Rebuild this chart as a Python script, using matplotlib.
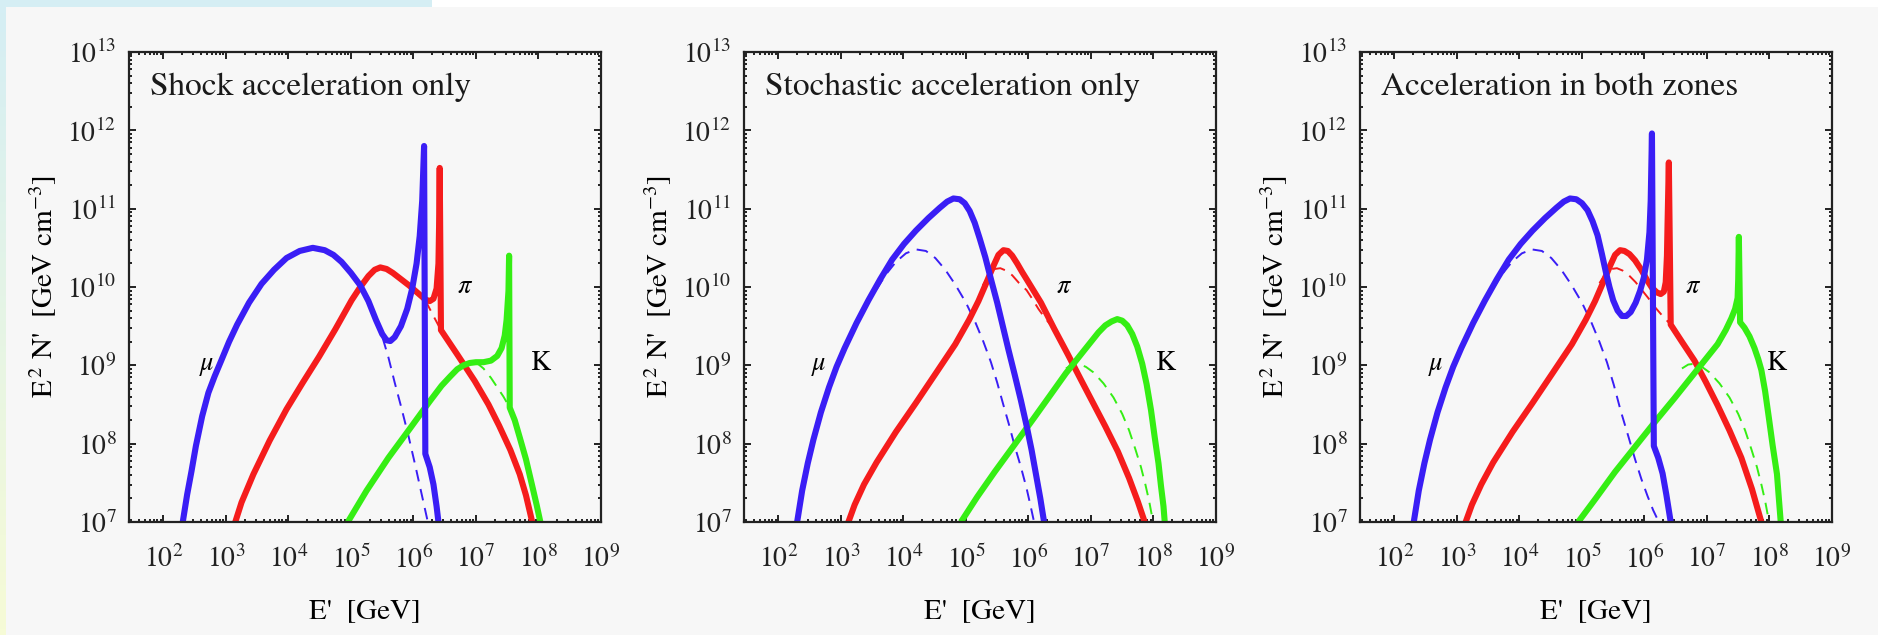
import numpy as np
import matplotlib
matplotlib.use("Agg")
import matplotlib.pyplot as plt
from matplotlib.ticker import LogLocator, LogFormatterSciNotation, NullFormatter
from matplotlib.patches import Rectangle

plt.rcParams['font.family'] = 'STIXGeneral'
plt.rcParams['mathtext.fontset'] = 'stix'

# curves as (log10 E', log10 E^2 N')
# --- panel 1: shock acceleration only
shock_mu = [(2.31, 7.00), (2.38, 7.35), (2.45, 7.65), (2.52, 7.97), (2.62, 8.35), (2.72, 8.65),
            (2.82, 8.86), (2.92, 9.05), (3.05, 9.30), (3.18, 9.52), (3.37, 9.80), (3.57, 10.04),
            (3.77, 10.22), (3.97, 10.37), (4.18, 10.46), (4.39, 10.50), (4.58, 10.47), (4.72, 10.41),
            (4.85, 10.32), (5.00, 10.18), (5.15, 10.02), (5.28, 9.82), (5.40, 9.58), (5.50, 9.40),
            (5.57, 9.32), (5.63, 9.31), (5.70, 9.36), (5.80, 9.50), (5.90, 9.72), (5.98, 9.98),
            (6.05, 10.30), (6.10, 10.65), (6.14, 11.10), (6.17, 11.80), (6.19, 7.87), (6.26, 7.70),
            (6.32, 7.48), (6.37, 7.20), (6.40, 7.00)]
shock_mu_dash = [(5.40, 9.58), (5.50, 9.37), (5.60, 9.10), (5.70, 8.78), (5.80, 8.48), (5.92, 8.10),
                 (6.03, 7.72), (6.13, 7.36), (6.23, 7.00)]
shock_pi = [(3.15, 7.00), (3.25, 7.25), (3.44, 7.61), (3.70, 8.04), (3.97, 8.44), (4.23, 8.78),
            (4.49, 9.11), (4.75, 9.46), (5.01, 9.83), (5.15, 10.00), (5.28, 10.14), (5.38, 10.22),
            (5.47, 10.25), (5.57, 10.23), (5.67, 10.18), (5.80, 10.10), (5.93, 10.02), (6.06, 9.93),
            (6.19, 9.84), (6.26, 9.82), (6.32, 9.85), (6.37, 9.98), (6.40, 10.30), (6.41, 10.77),
            (6.42, 11.52), (6.44, 9.45), (6.70, 9.14), (6.98, 8.80), (7.20, 8.50), (7.37, 8.23),
            (7.55, 7.92), (7.70, 7.61), (7.80, 7.34), (7.90, 7.00)]
shock_pi_dash = [(6.19, 9.83), (6.32, 9.63), (6.44, 9.45)]
shock_k = [(4.95, 7.00), (5.25, 7.40), (5.60, 7.82), (5.95, 8.20), (6.26, 8.54), (6.45, 8.74),
           (6.59, 8.86), (6.70, 8.95), (6.80, 9.00), (6.90, 9.03), (7.00, 9.04), (7.12, 9.04),
           (7.24, 9.06), (7.34, 9.12), (7.41, 9.22), (7.46, 9.38), (7.49, 9.58), (7.52, 9.95),
           (7.53, 10.40), (7.54, 8.46), (7.62, 8.30), (7.70, 8.08), (7.80, 7.80), (7.90, 7.46),
           (7.97, 7.22), (8.03, 7.00)]
shock_k_dash = [(7.00, 9.04), (7.12, 8.96), (7.24, 8.84), (7.34, 8.72), (7.44, 8.60), (7.54, 8.46)]

# --- panel 2: stochastic acceleration only
stoch_mu = [(2.30, 7.00), (2.38, 7.40), (2.47, 7.75), (2.56, 8.05), (2.68, 8.40), (2.81, 8.72),
            (2.93, 8.98), (3.06, 9.22), (3.25, 9.54), (3.44, 9.83), (3.63, 10.10), (3.82, 10.35),
            (4.01, 10.55), (4.20, 10.72), (4.40, 10.88), (4.58, 11.01), (4.70, 11.09), (4.80, 11.13),
            (4.90, 11.12), (4.98, 11.07), (5.06, 10.97), (5.14, 10.82), (5.22, 10.62), (5.31, 10.38),
            (5.40, 10.10), (5.50, 9.80), (5.59, 9.50), (5.68, 9.20), (5.78, 8.88), (5.88, 8.55),
            (5.97, 8.23), (6.05, 7.92), (6.12, 7.61), (6.19, 7.30), (6.25, 7.00)]
stoch_mu_dash = [(3.57, 9.97), (3.72, 10.16), (3.88, 10.32), (4.04, 10.43), (4.20, 10.48),
                 (4.36, 10.46), (4.51, 10.37), (4.67, 10.22), (4.83, 10.03), (5.00, 9.80),
                 (5.15, 9.55), (5.28, 9.30), (5.40, 9.04), (5.50, 8.78), (5.59, 8.52), (5.69, 8.24),
                 (5.78, 7.97), (5.88, 7.70), (5.97, 7.43), (6.03, 7.22), (6.09, 7.00)]
stoch_pi = [(3.12, 7.00), (3.22, 7.22), (3.37, 7.48), (3.57, 7.76), (3.88, 8.15), (4.20, 8.52),
            (4.52, 8.90), (4.83, 9.27), (5.05, 9.58), (5.20, 9.82), (5.33, 10.06), (5.44, 10.27),
            (5.52, 10.41), (5.60, 10.47), (5.67, 10.46), (5.74, 10.40), (5.82, 10.30), (5.90, 10.19),
            (5.97, 10.10), (6.20, 9.80), (6.41, 9.47), (6.63, 9.14), (6.85, 8.80), (7.04, 8.51),
            (7.23, 8.22), (7.43, 7.90), (7.61, 7.56), (7.75, 7.26), (7.86, 7.00)]
stoch_pi_dash = [(5.27, 10.02), (5.37, 10.16), (5.46, 10.23), (5.55, 10.24), (5.64, 10.21),
                 (5.74, 10.15), (5.85, 10.05), (5.97, 9.96), (6.06, 9.85), (6.16, 9.72), (6.25, 9.62),
                 (6.35, 9.52)]
stoch_k = [(4.92, 7.00), (5.18, 7.32), (5.46, 7.64), (5.78, 7.99), (6.09, 8.33), (6.35, 8.62),
           (6.60, 8.90), (6.80, 9.10), (6.98, 9.28), (7.12, 9.42), (7.23, 9.51), (7.33, 9.56),
           (7.42, 9.59), (7.50, 9.57), (7.58, 9.51), (7.66, 9.40), (7.74, 9.24), (7.82, 9.02),
           (7.89, 8.76), (7.96, 8.43), (8.02, 8.08), (8.08, 7.75), (8.12, 7.46), (8.16, 7.20),
           (8.18, 7.00)]
stoch_k_dash = [(6.60, 8.96), (6.70, 9.01), (6.80, 9.02), (6.92, 8.98), (7.04, 8.91), (7.20, 8.77),
                (7.36, 8.59), (7.50, 8.38), (7.61, 8.17), (7.71, 7.93), (7.80, 7.70), (7.87, 7.48),
                (7.93, 7.27), (7.97, 7.10), (7.99, 7.00)]

# --- panel 3: acceleration in both zones
both_mu = [(2.31, 7.00), (2.39, 7.40), (2.48, 7.75), (2.57, 8.05), (2.69, 8.40), (2.82, 8.72),
           (2.94, 8.98), (3.07, 9.22), (3.26, 9.54), (3.45, 9.83), (3.64, 10.10), (3.83, 10.35),
           (4.02, 10.55), (4.21, 10.72), (4.41, 10.88), (4.59, 11.01), (4.71, 11.09), (4.81, 11.13),
           (4.91, 11.12), (5.00, 11.07), (5.09, 10.98), (5.17, 10.84), (5.25, 10.66), (5.32, 10.42),
           (5.38, 10.20), (5.44, 10.00), (5.50, 9.83), (5.57, 9.70), (5.64, 9.63), (5.71, 9.63),
           (5.78, 9.68), (5.86, 9.80), (5.93, 9.95), (5.99, 10.12), (6.04, 10.35), (6.08, 10.70),
           (6.10, 11.10), (6.12, 11.96), (6.15, 7.97), (6.22, 7.82), (6.29, 7.62), (6.35, 7.35),
           (6.42, 7.00)]
both_mu_dash = [(3.57, 9.97), (3.72, 10.16), (3.88, 10.32), (4.04, 10.43), (4.20, 10.48),
                (4.36, 10.46), (4.51, 10.37), (4.67, 10.22), (4.83, 10.03), (5.00, 9.80),
                (5.15, 9.55), (5.28, 9.30), (5.40, 9.04), (5.51, 8.75), (5.62, 8.42), (5.74, 8.10),
                (5.85, 7.80), (5.95, 7.55), (6.05, 7.33), (6.14, 7.15), (6.23, 7.00)]
both_pi = [(3.14, 7.00), (3.24, 7.22), (3.39, 7.48), (3.58, 7.76), (3.89, 8.15), (4.21, 8.52),
           (4.53, 8.90), (4.84, 9.27), (5.06, 9.58), (5.21, 9.82), (5.34, 10.06), (5.45, 10.27),
           (5.53, 10.41), (5.61, 10.47), (5.68, 10.46), (5.76, 10.42), (5.85, 10.34), (5.95, 10.22),
           (6.04, 10.09), (6.12, 9.99), (6.20, 9.93), (6.26, 9.91), (6.31, 9.94), (6.34, 10.06),
           (6.36, 10.40), (6.37, 10.82), (6.39, 11.59), (6.42, 9.52), (6.60, 9.30), (6.80, 9.06),
           (6.98, 8.79), (7.17, 8.49), (7.36, 8.17), (7.55, 7.82), (7.72, 7.42), (7.87, 7.00)]
both_pi_dash = [(5.28, 10.05), (5.38, 10.17), (5.47, 10.23), (5.56, 10.24), (5.65, 10.21),
                (5.75, 10.15), (5.86, 10.06), (5.96, 9.96), (6.06, 9.86), (6.16, 9.75), (6.29, 9.63),
                (6.42, 9.52)]
both_k = [(4.94, 7.00), (5.22, 7.30), (5.53, 7.64), (5.85, 7.96), (6.17, 8.28), (6.48, 8.58),
          (6.80, 8.90), (6.98, 9.08), (7.17, 9.27), (7.30, 9.45), (7.39, 9.60), (7.45, 9.72),
          (7.49, 9.86), (7.50, 10.10), (7.51, 10.64), (7.53, 9.55), (7.60, 9.48), (7.68, 9.37),
          (7.76, 9.22), (7.82, 9.08), (7.87, 8.94), (7.93, 8.67), (7.99, 8.33), (8.05, 7.98),
          (8.12, 7.61), (8.15, 7.30), (8.18, 7.00)]
both_k_dash = [(6.60, 8.96), (6.70, 9.01), (6.80, 9.02), (6.92, 8.98), (7.04, 8.91), (7.20, 8.77),
               (7.36, 8.59), (7.50, 8.38), (7.61, 8.17), (7.71, 7.93), (7.80, 7.70), (7.87, 7.48),
               (7.93, 7.27), (7.97, 7.10), (7.99, 7.00)]

titles = ['Shock acceleration only', 'Stochastic acceleration only', 'Acceleration in both zones']
mu_label_x = [2.69, 2.65, 2.67]
pi_label_x = [6.82, 6.57, 6.78]
k_label_x = [8.02, 8.18, 8.11]

panels = [(shock_mu, shock_mu_dash, shock_pi, shock_pi_dash, shock_k, shock_k_dash),
          (stoch_mu, stoch_mu_dash, stoch_pi, stoch_pi_dash, stoch_k, stoch_k_dash),
          (both_mu, both_mu_dash, both_pi, both_pi_dash, both_k, both_k_dash)]

blue, red, green = '#3a1ef5', '#f51c1c', '#35ee14'
bg = '#f7f7f7'


def curve(pts):
    a = np.array(pts)
    return 10 ** a[:, 0], 10 ** a[:, 1]


fig = plt.figure(figsize=(18.78, 6.35), dpi=100, facecolor=bg)
# screenshot border strips
fig.patches.append(Rectangle((0, 1 - 7 / 635), 432 / 1878, 7 / 635, transform=fig.transFigure,
                             facecolor='#d5eef4', edgecolor='none'))
fig.patches.append(Rectangle((432 / 1878, 1 - 7 / 635), 1, 7 / 635, transform=fig.transFigure,
                             facecolor='white', edgecolor='none'))
grad = np.linspace(0, 1, 100)[:, None]
gax = fig.add_axes([0, 0, 6 / 1878, 1 - 7 / 635])
gax.imshow(grad, aspect='auto', cmap=matplotlib.colors.LinearSegmentedColormap.from_list(
    'edge', ['#f6fbd6', '#d5eef4']), origin='lower')
gax.axis('off')

lefts = [129, 744, 1360]
for i, left in enumerate(lefts):
    ax = fig.add_axes([left / 1878, 113 / 635, 472 / 1878, 470 / 635], facecolor=bg)
    mu, mu_d, pi, pi_d, k, k_d = panels[i]
    for pts, col in [(mu_d, blue), (pi_d, red), (k_d, green)]:
        ax.plot(*curve(pts), color=col, lw=1.4, ls=(0, (6, 4)))
    for pts, col in [(pi, red), (k, green), (mu, blue)]:
        ax.plot(*curve(pts), color=col, lw=4.4, solid_joinstyle='round', solid_capstyle='butt')
    ax.set_xscale('log')
    ax.set_yscale('log')
    ax.set_xlim(10 ** 1.45, 1e9)
    ax.set_ylim(1e7, 1e13)
    ax.xaxis.set_major_locator(LogLocator(base=10, numticks=20))
    ax.yaxis.set_major_locator(LogLocator(base=10, numticks=20))
    ax.xaxis.set_minor_locator(LogLocator(base=10, subs=np.arange(2, 10), numticks=20))
    ax.yaxis.set_minor_locator(LogLocator(base=10, subs=np.arange(2, 10), numticks=20))
    ax.xaxis.set_minor_formatter(NullFormatter())
    ax.yaxis.set_minor_formatter(NullFormatter())
    ax.xaxis.set_major_formatter(LogFormatterSciNotation())
    ax.yaxis.set_major_formatter(LogFormatterSciNotation())
    ax.tick_params(which='both', direction='in', top=True, right=True, width=1.4, labelsize=20,
                   colors='#222222')
    ax.tick_params(which='major', length=5)
    ax.tick_params(axis='y', which='major', pad=9)
    ax.tick_params(axis='x', which='major', pad=17)
    ax.tick_params(which='minor', length=2.5)
    for s in ax.spines.values():
        s.set_linewidth(1.6)
        s.set_color('#222222')
    ax.text(0.045, 0.925, titles[i], transform=ax.transAxes, fontsize=24, va='center', color='#1a1a1a')
    ax.text(10 ** mu_label_x[i], 10 ** 8.99, r'$\mu$', fontsize=19, ha='center', va='center')
    ax.text(10 ** pi_label_x[i], 10 ** 10.0, r'$\pi$', fontsize=19, ha='center', va='center')
    ax.text(10 ** k_label_x[i], 10 ** 9.03, 'K', fontsize=20, ha='center', va='center')
    ax.set_xlabel("E'  [GeV]", fontsize=21, labelpad=18)
    ax.set_ylabel(r"E$^{\,2}$ N'  [GeV cm$^{-3}$]", fontsize=21, labelpad=6)

fig.savefig('out.png', dpi=100, facecolor=bg)
